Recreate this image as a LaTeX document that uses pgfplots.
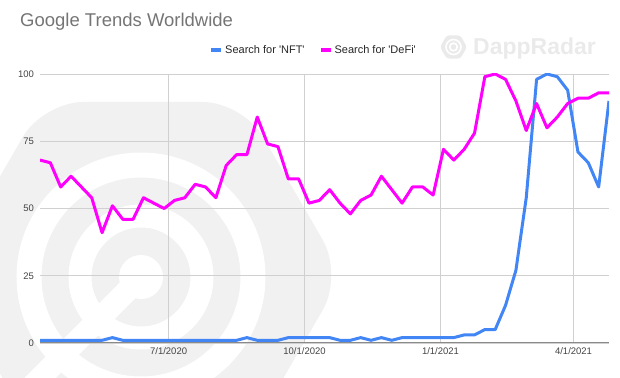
\documentclass[border=0pt]{standalone}
\usepackage{fontspec}
\setmainfont{Liberation Sans}
\usepackage{pgfplots}
\usepackage{pgfplotstable}
\pgfplotsset{compat=1.18}
\definecolor{nftblue}{HTML}{4285F4}
\definecolor{defimag}{HTML}{FF00FF}
\definecolor{titlegray}{HTML}{757575}
\definecolor{tickgray}{HTML}{444444}
\definecolor{gridgray}{HTML}{D0D0D0}
\definecolor{basegray}{HTML}{8A8A8A}
\definecolor{wmgray}{HTML}{F1F1F1}
\definecolor{wmtext}{HTML}{EAEAEA}
\pgfplotstableread{
day nft defi
0 1 68
7 1 67
14 1 58
21 1 62
28 1 58
35 1 54
42 1 41
49 2 51
56 1 46
63 1 46
70 1 54
77 1 52
84 1 50
91 1 53
98 1 54
105 1 59
112 1 58
119 1 54
126 1 66
133 1 70
140 2 70
147 1 84
154 1 74
161 1 73
168 2 61
175 2 61
182 2 52
189 2 53
196 2 57
203 1 52
210 1 48
217 2 53
224 1 55
231 2 62
238 1 57
245 2 52
252 2 58
259 2 58
266 2 55
273 2 72
280 2 68
287 3 72
294 3 78
301 5 99
308 5 100
315 14 98
322 27 90
329 54 79
336 98 89
343 100 80
350 99 84
357 94 89
364 71 91
371 67 91
378 58 93
385 90 93
}\trends
\begin{document}
\begin{tikzpicture}[x=1pt,y=1pt]
\path[use as bounding box] (0,0) rectangle (620,377);
% watermark (background logo)
\begin{scope}
\clip (0,0) rectangle (620,377);
\fill[wmgray, rounded corners=40pt] (343,102) -- (243,275) -- (43,275) -- (-57,102) -- (43,-71) -- (243,-71) -- cycle;
\draw[white, line width=25pt] (141,100) circle (112);
\draw[white, line width=23pt] (141,100) circle (61);
\fill[white] (141,100) circle (22);
\draw[white, line width=22pt] (141,100) -- (30,-11);
\end{scope}
% small logo + brand text
\fill[wmtext, rounded corners=3pt] (467,330) -- (460.25,341.7) -- (446.75,341.7) -- (440,330) -- (446.75,318.3) -- (460.25,318.3) -- cycle;
\draw[white, line width=1.6pt] (453.5,330) circle (7.5);
\draw[white, line width=1.6pt] (453.5,330) circle (3.8);
\node[anchor=base west, inner sep=0pt, text=wmtext, font=\bfseries\fontsize{23}{23}\selectfont] at (473,322) {DappRadar};
% title
\node[anchor=base west, inner sep=0pt, text=titlegray, font=\fontsize{18.5}{20}\selectfont] at (20,350) {Google Trends Worldwide};
\begin{axis}[
  at={(40pt,34pt)}, anchor=south west,
  scale only axis, width=569pt, height=269pt,
  xmin=0, xmax=385, ymin=0, ymax=100,
  xtick={87,179,271,361},
  xticklabels={7/1/2020,10/1/2020,1/1/2021,4/1/2021},
  ytick={0,25,50,75,100},
  grid=major,
  major grid style={gridgray, line width=0.8pt},
  axis x line*=bottom, axis y line*=left,
  x axis line style={basegray, line width=1pt},
  y axis line style={draw=none},
  major tick length=0pt,
  tick style={draw=none},
  ticklabel style={font=\fontsize{9.5}{11}\selectfont, text=tickgray},
  yticklabel style={xshift=-2.5pt},
  xticklabel style={yshift=-1.5pt},
  /pgf/number format/assume math mode=true,
  legend columns=2,
  legend style={at={(axis description cs:0.4807,1.089)}, anchor=center,
    draw=none, fill=none, inner sep=0pt,
    font=\fontsize{11}{13}\selectfont, text=black!85,
    /tikz/every even column/.append style={column sep=12pt}},
  legend image code/.code={\draw[#1, line width=4pt, line cap=butt] (0pt,0pt) -- (10pt,0pt);},
]
\addplot[nftblue, line width=3pt, line join=round] table[x=day, y=nft] {\trends};
\addlegendentry{Search for \textquotesingle NFT\textquotesingle}
\addplot[defimag, line width=3pt, line join=round] table[x=day, y=defi] {\trends};
\addlegendentry{Search for \textquotesingle DeFi\textquotesingle}
\end{axis}
\end{tikzpicture}
\end{document}
